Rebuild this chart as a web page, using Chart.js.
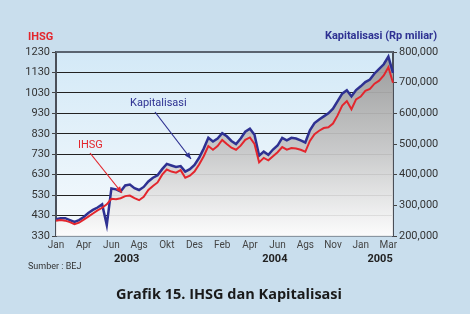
<!DOCTYPE html>
<html>
<head>
<meta charset="utf-8">
<script src="https://cdn.jsdelivr.net/npm/chart.js@4"></script>
<style>
  body { margin: 0; background: #c9deed; }
  #wrap { width: 470px; height: 314px; position: relative; }
</style>
</head>
<body>
<div id="wrap"><canvas id="ihsgChart"></canvas></div>
<script>
// Month labels, one every 6 points
const monthNames = ['Jan', 'Apr', 'Jun', 'Ags', 'Okt', 'Des', 'Feb', 'Apr', 'Jun', 'Ags', 'Nov', 'Jan', 'Mar'];
const years = [['2003', 2.55], ['2004', 7.9], ['2005', 11.7]]; // label, position in month-label units

// IHSG index (left axis)
const ihsg = [
    405, 408, 405, 398, 388, 395, 410, 425, 440, 455, 468, 485, 512, 510, 515, 525, 528, 515, 505, 522,
    555, 575, 592, 630, 655, 645, 640, 652, 615, 625, 645, 680, 720, 770, 752, 770, 800, 780, 762, 752,
    772, 800, 812, 780, 690, 712, 700, 720, 740, 765, 752, 760, 758, 752, 742, 795, 828, 845, 858, 862,
    880, 920, 968, 990, 950, 998, 1012, 1040, 1050, 1075, 1090, 1115, 1155, 1080
];

// Kapitalisasi, Rp miliar (right axis), in thousands
const kapitalisasi = [
    255, 258, 258, 252, 246, 252, 262, 275, 285, 293, 303, 236, 355, 352, 345, 365, 368, 356, 350, 360,
    378, 390, 398, 418, 435, 430, 425, 428, 410, 418, 432, 455, 485, 520, 508, 518, 535, 525, 510, 500,
    518, 540, 550, 530, 462, 475, 465, 482, 495, 520, 512, 520, 518, 512, 505, 545, 568, 580, 590, 600,
    615, 640, 664, 675, 655, 676, 688, 702, 710, 730, 745, 760, 785, 732
];

const labels = ihsg.map((v, i) => (i % 6 === 0 ? monthNames[i / 6] : ''));
const tickFont = { family: 'Roboto', size: 11 };

// Background, plot area and text around the chart
const decor = {
    id: 'decor',
    beforeDraw(chart) {
        const { ctx, chartArea: a } = chart;
        ctx.save();
        ctx.fillStyle = '#c9deed';
        ctx.fillRect(0, 0, chart.width, chart.height);
        const g = ctx.createLinearGradient(0, a.top, 0, a.bottom);
        g.addColorStop(0, '#d3e9f7');
        g.addColorStop(1, '#f6fafd');
        ctx.fillStyle = g;
        ctx.fillRect(a.left, a.top, a.right - a.left, a.bottom - a.top);
        ctx.restore();
    },
    afterDatasetsDraw(chart) {
        const { ctx, chartArea: a } = chart;
        ctx.save();
        // top border
        ctx.strokeStyle = '#5a6470';
        ctx.lineWidth = 2;
        ctx.beginPath();
        ctx.moveTo(a.left, a.top);
        ctx.lineTo(a.right, a.top);
        ctx.stroke();

        // annotations
        const arrow = (x1, y1, x2, y2, color) => {
            ctx.strokeStyle = color;
            ctx.fillStyle = color;
            ctx.lineWidth = 1.2;
            ctx.beginPath();
            ctx.moveTo(x1, y1);
            ctx.lineTo(x2, y2);
            ctx.stroke();
            const ang = Math.atan2(y2 - y1, x2 - x1);
            ctx.beginPath();
            ctx.moveTo(x2, y2);
            ctx.lineTo(x2 - 7 * Math.cos(ang - 0.4), y2 - 7 * Math.sin(ang - 0.4));
            ctx.lineTo(x2 - 7 * Math.cos(ang + 0.4), y2 - 7 * Math.sin(ang + 0.4));
            ctx.closePath();
            ctx.fill();
        };
        ctx.font = '11px Roboto';
        ctx.textAlign = 'left';
        ctx.textBaseline = 'middle';
        ctx.fillStyle = '#2e3192';
        ctx.fillText('Kapitalisasi', 130, 103);
        arrow(155, 112, 191, 159, '#2e3192');
        ctx.fillStyle = '#e3262d';
        ctx.fillText('IHSG', 78, 145);
        arrow(90, 153, 122, 193, '#e3262d');
        ctx.restore();
    },
    afterDraw(chart) {
        const { ctx, scales } = chart;
        ctx.save();
        ctx.textBaseline = 'middle';
        ctx.font = 'bold 11px Roboto';
        ctx.fillStyle = '#e3262d';
        ctx.textAlign = 'left';
        ctx.fillText('IHSG', 28, 37);
        ctx.fillStyle = '#2e3192';
        ctx.textAlign = 'right';
        ctx.fillText('Kapitalisasi (Rp miliar)', 437, 36);

        ctx.fillStyle = '#222';
        ctx.textAlign = 'center';
        years.forEach(([txt, pos]) => {
            ctx.fillText(txt, scales.x.getPixelForValue(pos * 6), 259);
        });

        ctx.font = '9px Roboto';
        ctx.fillStyle = '#333';
        ctx.textAlign = 'left';
        ctx.fillText('Sumber : BEJ', 28, 267);

        ctx.font = 'bold 14.5px "Open Sans"';
        ctx.fillStyle = '#1a1a1a';
        ctx.textAlign = 'center';
        ctx.fillText('Grafik 15. IHSG dan Kapitalisasi', 229, 295);
        ctx.restore();
    }
};

const ctx = document.getElementById('ihsgChart').getContext('2d');
const chart = new Chart(ctx, {
    type: 'line',
    data: {
        labels: labels,
        datasets: [{
            label: 'IHSG',
            data: ihsg,
            yAxisID: 'y',
            borderColor: '#e3262d',
            borderWidth: 2,
            pointRadius: 0,
            fill: false,
            order: 0
        }, {
            label: 'Kapitalisasi',
            data: kapitalisasi.map(v => v * 1000),
            yAxisID: 'y1',
            borderColor: '#2e3192',
            borderWidth: 2.5,
            pointRadius: 0,
            fill: 'start',
            backgroundColor: (c) => {
                const a = c.chart.chartArea;
                if (!a) return 'rgba(180,180,180,0.9)';
                const g = c.chart.ctx.createLinearGradient(0, a.top, 0, a.bottom);
                g.addColorStop(0, 'rgba(150,150,150,0.96)');
                g.addColorStop(0.55, 'rgba(200,200,200,0.93)');
                g.addColorStop(1, 'rgba(252,252,252,0.9)');
                return g;
            },
            order: 1
        }]
    },
    options: {
        responsive: true,
        maintainAspectRatio: false,
        animation: false,
        layout: { padding: { top: 52, left: 0, right: 0, bottom: 0 } },
        plugins: { legend: { display: false }, tooltip: { enabled: false } },
        scales: {
            x: {
                type: 'category',
                afterFit: (s) => { s.height = 78; },
                grid: { display: false, drawTicks: false },
                border: { display: true, color: '#4a4f58', width: 1.5 },
                ticks: {
                    autoSkip: false,
                    maxRotation: 0,
                    padding: 3,
                    font: { family: 'Roboto', size: 10 },
                    color: '#444',
                    callback: (v, i) => labels[i]
                }
            },
            y: {
                position: 'left',
                min: 330,
                max: 1230,
                afterFit: (s) => { s.width = 56; },
                ticks: { stepSize: 100, font: tickFont, color: '#333', padding: 2, callback: (v) => String(v) },
                grid: {
                    color: (c) => (c.tick.value === 330 || c.tick.value === 1230 ? 'transparent' : '#222'),
                    borderDash: [2.5, 2],
                    tickLength: 4,
                    tickColor: '#444',
                    tickBorderDash: []
                },
                border: { color: '#4a4f58', width: 2 }
            },
            y1: {
                position: 'right',
                min: 200000,
                max: 800000,
                afterFit: (s) => { s.width = 77; },
                ticks: {
                    stepSize: 100000,
                    font: tickFont,
                    color: '#333',
                    padding: 2,
                    callback: (v) => v.toLocaleString('en-US')
                },
                grid: { drawOnChartArea: false, tickLength: 4, tickColor: '#444' },
                border: { color: '#4a4f58', width: 2 }
            }
        }
    },
    plugins: [decor]
});
</script>
</body>
</html>
